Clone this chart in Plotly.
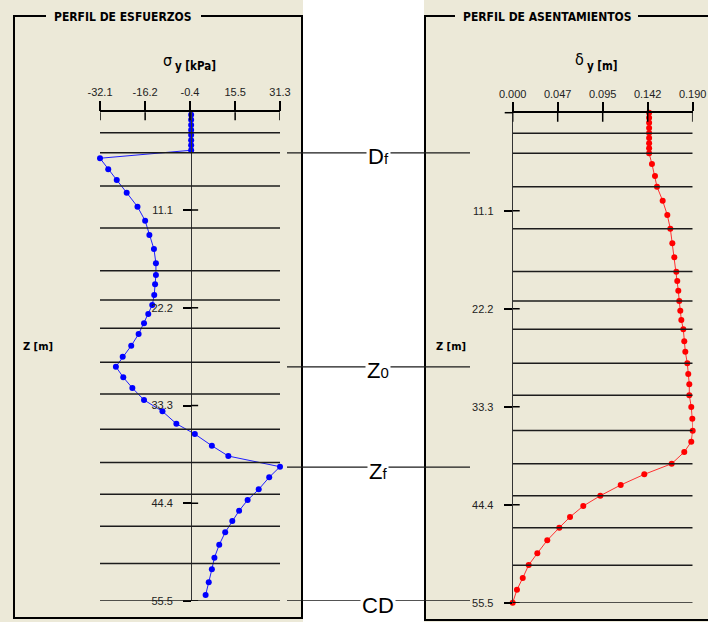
import plotly.graph_objects as go

# ---------------- data ----------------
# stress profile (evaluated at mid-depth of each sub-layer)
z_stress = [0.29, 0.86, 1.44, 2.01, 2.59, 3.16, 3.74, 4.31,
            5.22, 6.47, 7.69, 9.13, 10.72, 12.31, 13.94, 15.53, 17.15, 18.48,
            19.53, 20.75, 21.89, 22.91, 23.96, 25.18, 26.51, 27.76, 28.89, 30.10,
            31.31, 32.67, 33.96, 35.37, 36.54, 37.87, 39.04, 40.25, 41.45, 42.82,
            44.03, 45.25, 46.42, 47.70, 49.11, 50.58, 51.90, 53.38, 54.82]
sigma_y = [0.0, 0.0, 0.0, 0.0, 0.0, 0.0, 0.0, 0.0,
           -32.1, -29.2, -26.2, -22.7, -18.9, -16.2, -14.7, -13.1, -12.4, -12.4,
           -12.7, -13.0, -13.7, -15.1, -16.6, -18.5, -21.1, -24.1, -26.5, -23.9,
           -20.7, -16.6, -10.1, -5.2, 1.3, 7.3, 13.1, 31.3, 27.5, 23.8,
           19.9, 16.9, 14.5, 12.0, 9.9, 8.2, 7.3, 6.2, 5.1]

# settlement profile (evaluated at nodes)
z_nodes = [0.0, 0.575, 1.15, 1.725, 2.3, 2.875, 3.45, 4.025, 4.6,
           5.81, 7.17, 8.38, 9.97, 11.59, 13.14, 14.79, 16.38, 18.01, 19.06,
           20.16, 21.33, 22.43, 23.48, 24.53, 25.88, 27.07, 28.38, 29.59, 30.76,
           32.01, 33.33, 34.66, 36.02, 37.26, 38.43, 39.76, 40.96, 42.17, 43.38,
           44.55, 45.79, 47.0, 48.43, 49.90, 51.23, 52.70, 54.03, 55.5]
delta_y = [0.144, 0.144, 0.144, 0.144, 0.144, 0.144, 0.144, 0.144, 0.144,
           0.1470, 0.1502, 0.1523, 0.1583, 0.1632, 0.1664, 0.1685, 0.1706, 0.1727, 0.1737,
           0.1748, 0.1758, 0.1769, 0.1780, 0.1801, 0.1811, 0.1822, 0.1843, 0.1853, 0.1864,
           0.1864, 0.1885, 0.1896, 0.1900, 0.1885, 0.1811, 0.1678, 0.1389, 0.1140, 0.0925,
           0.0745, 0.0605, 0.0492, 0.0365, 0.0260, 0.0169, 0.0106, 0.0045, 0.0]

# layer boundaries [m]
layers = [2.33, 4.6, 8.38, 13.14, 18.0, 21.33, 24.53, 28.38, 32.0,
          36.0, 39.76, 43.38, 47.0, 51.25, 55.5]

# key depths marked between the panels
key_depths = [4.6, 28.9, 40.3, 55.5]
key_labels = ["D<span style='font-size:15px'>f</span>",
              "Z<span style='font-size:15px'>0</span>",
              "Z<span style='font-size:15px'>f</span>",
              "CD"]

# axis ticks
sig_ticks = [-32.1, -16.2, -0.4, 15.5, 31.3]
sig_ticktext = ["-32.1", "-16.2", "-0.4", "15.5", "31.3"]
del_ticks = [0.0, 0.0475, 0.095, 0.1425, 0.190]
del_ticktext = ["0.000", "0.047", "0.095", "0.142", "0.190"]
z_ticks = [11.1, 22.2, 33.3, 44.4, 55.5]
z_ticktext = ["11.1", "22.2", "33.3", "44.4", "55.5"]

# ---------------- layout helpers ----------------
W, H = 708, 622
BEIGE = "#ECE9D8"
SANS = "Liberation Sans Narrow, Liberation Sans, Arial, sans-serif"
BOLD = "DejaVu Sans Condensed, DejaVu Sans, sans-serif"


def px(x):
    return x / W


def py(y):
    return 1 - y / H


sig_range = [sig_ticks[0], sig_ticks[-1]]
del_range = [del_ticks[0], del_ticks[-1]]
z_range = [55.5, 0.0]

left_dom_x = [px(100), px(280)]
left_dom_y = [py(601), py(112.3)]
right_dom_x = [px(512.7), px(692.7)]
right_dom_y = [py(602.7), py(112.7)]

# paper position of sigma = 0 (vertical axis of the stress panel)
zero_frac = (0 - sig_range[0]) / (sig_range[1] - sig_range[0])
left_axis_pos = left_dom_x[0] + zero_frac * (left_dom_x[1] - left_dom_x[0])

fig = go.Figure()

fig.add_trace(go.Scatter(
    x=sigma_y, y=z_stress, xaxis="x", yaxis="y", mode="lines+markers",
    line=dict(color="#1f1fff", width=1), marker=dict(color="#0000ff", size=6),
    cliponaxis=False, showlegend=False, hoverinfo="x+y"))

fig.add_trace(go.Scatter(
    x=delta_y, y=z_nodes, xaxis="x2", yaxis="y2", mode="lines+markers",
    line=dict(color="#ff3030", width=1), marker=dict(color="#ff0000", size=6),
    cliponaxis=False, showlegend=False, hoverinfo="x+y"))

shapes = []

# panel backgrounds
shapes.append(dict(type="rect", xref="paper", yref="paper", x0=px(0), x1=px(303),
                   y0=py(622), y1=py(0), fillcolor=BEIGE, line_width=0, layer="below"))
shapes.append(dict(type="rect", xref="paper", yref="paper", x0=px(424), x1=px(708),
                   y0=py(622), y1=py(0), fillcolor=BEIGE, line_width=0, layer="below"))
# white strip between panels
shapes.append(dict(type="rect", xref="paper", yref="paper", x0=px(303), x1=px(424),
                   y0=py(622), y1=py(0), fillcolor="white", line_width=0, layer="below"))


def frame_path(points):
    d = "M " + " L ".join(f"{px(x):.5f},{py(y):.5f}" for x, y in points)
    return dict(type="path", xref="paper", yref="paper", path=d,
                line=dict(color="black", width=2))


# group-box frames (gap left for the titles)
shapes.append(frame_path([(46, 16), (14, 16), (14, 618), (302, 618), (302, 16), (201, 16)]))
shapes.append(frame_path([(455, 16), (425, 16), (425, 620), (708, 620)]))
shapes.append(frame_path([(638, 16), (708, 16)]))

# layer boundary lines
for z in layers:
    shapes.append(dict(type="line", xref="x", yref="y", x0=sig_range[0], x1=sig_range[1],
                       y0=z, y1=z, line=dict(color="#1c1c1c", width=1.5)))
    shapes.append(dict(type="line", xref="x2", yref="y2", x0=del_range[0], x1=del_range[1],
                       y0=z, y1=z, line=dict(color="#1c1c1c", width=1.5)))

# lower halves of the top-axis ticks (ticks cross the axis line)
for t in sig_ticks:
    shapes.append(dict(type="line", xref="x", yref="y domain", x0=t, x1=t, y0=1,
                       y1=1 - 8 / 488.7, line=dict(color="black", width=1.5)))
for t in del_ticks:
    shapes.append(dict(type="line", xref="x2", yref="y2 domain", x0=t, x1=t, y0=1,
                       y1=1 - 9 / 490, line=dict(color="black", width=1.5)))

# right halves of the depth-axis ticks
sig_per_px = (sig_range[1] - sig_range[0]) / 180
del_per_px = (del_range[1] - del_range[0]) / 180
for t in z_ticks:
    shapes.append(dict(type="line", xref="x", yref="y", x0=0, x1=7 * sig_per_px,
                       y0=t, y1=t, line=dict(color="black", width=1.5)))
    shapes.append(dict(type="line", xref="x2", yref="y2", x0=0, x1=7 * del_per_px,
                       y0=t, y1=t, line=dict(color="black", width=1.5)))
# depth-axis tick at z = 0 of the settlement panel (left of the axis origin)
shapes.append(dict(type="line", xref="paper", yref="paper",
                   x0=right_dom_x[0] - 8 / W, x1=right_dom_x[0],
                   y0=right_dom_y[1], y1=right_dom_y[1],
                   line=dict(color="black", width=1.5)))

# key depth markers spanning the gap between the panels
for z in key_depths:
    shapes.append(dict(type="line", xref="paper", yref="y", x0=px(287), x1=px(470),
                       y0=z, y1=z, line=dict(color="#1a1a1a", width=1.3)))

annotations = []
for z, lab in zip(key_depths, key_labels):
    annotations.append(dict(x=px(378), y=z, xref="paper", yref="y", text=lab,
                            showarrow=False, xanchor="center", yanchor="middle", yshift=-4,
                            bgcolor="white", borderpad=1,
                            font=dict(family=SANS, size=22, color="black")))


def label(x, y, text, size, family=BOLD, anchor="center"):
    return dict(x=px(x), y=py(y), xref="paper", yref="paper", text=text,
                showarrow=False, xanchor=anchor, yanchor="middle", borderpad=0,
                font=dict(family=family, size=size, color="black"))


annotations += [
    label(123, 16.5, "<b>PERFIL DE ESFUERZOS</b>", 12),
    label(547, 16.5, "<b>PERFIL DE ASENTAMIENTOS</b>", 12),
    # axis titles: symbol followed by a lowered bold index and unit
    label(173, 60, "σ", 16, anchor="right"),
    label(174, 66, "<b>y [kPa]</b>", 11.5, anchor="left"),
    label(585, 59, "δ", 16, anchor="right"),
    label(586, 66, "<b>y [m]</b>", 11.5, anchor="left"),
    label(38, 346, "<b>Z [m]</b>", 11),
    label(451, 346, "<b>Z [m]</b>", 11),
]

tickfont = dict(family=SANS, size=11, color="#222")

fig.update_layout(
    width=W, height=H, margin=dict(l=0, r=0, t=0, b=0, pad=0, autoexpand=False),
    paper_bgcolor="white", plot_bgcolor="rgba(0,0,0,0)",
    shapes=shapes, annotations=annotations, showlegend=False,
    xaxis=dict(domain=left_dom_x, range=sig_range, side="top", anchor="y",
               tickmode="array", tickvals=sig_ticks, ticktext=sig_ticktext,
               ticks="outside", ticklen=10, tickwidth=1.5, tickcolor="black",
               showline=True, linecolor="black", linewidth=1.5, automargin=False,
               showgrid=False, zeroline=False, tickfont=tickfont, fixedrange=True),
    yaxis=dict(domain=left_dom_y, range=z_range, anchor="free", position=left_axis_pos,
               tickmode="array", tickvals=z_ticks, ticktext=z_ticktext,
               ticks="outside", ticklen=8, tickwidth=1.5, tickcolor="black",
               showline=True, linecolor="#333", linewidth=1, automargin=False,
               showgrid=False, zeroline=False, tickfont=tickfont,
               ticklabelstandoff=8, fixedrange=True),
    xaxis2=dict(domain=right_dom_x, range=del_range, side="top", anchor="y2",
                tickmode="array", tickvals=del_ticks, ticktext=del_ticktext,
                ticks="outside", ticklen=9, tickwidth=1.5, tickcolor="black",
                showline=True, linecolor="black", linewidth=1.5, automargin=False,
                showgrid=False, zeroline=False, tickfont=tickfont, fixedrange=True),
    yaxis2=dict(domain=right_dom_y, range=z_range, anchor="x2",
                tickmode="array", tickvals=z_ticks, ticktext=z_ticktext,
                ticks="outside", ticklen=8, tickwidth=1.5, tickcolor="black",
                showline=True, linecolor="#333", linewidth=1, automargin=False,
                showgrid=False, zeroline=False, tickfont=tickfont,
                ticklabelstandoff=8, fixedrange=True),
)

fig.write_html("out.html")
